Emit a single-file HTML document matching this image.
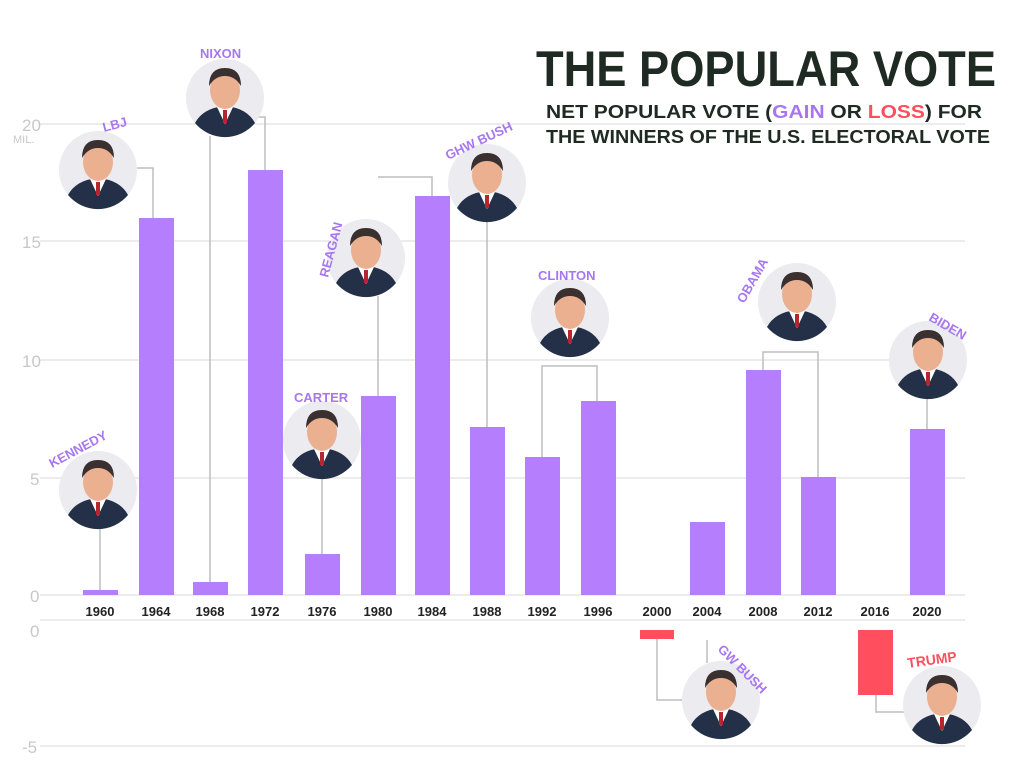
<!DOCTYPE html>
<html><head><meta charset="utf-8"><style>
body{margin:0;background:#fff;}
svg{display:block;font-family:"Liberation Sans",sans-serif;}
</style></head><body>
<svg width="1024" height="768" viewBox="0 0 1024 768" xmlns="http://www.w3.org/2000/svg">
<rect width="1024" height="768" fill="#fff"/>
<defs>
<g id="face">
  <circle r="39" fill="#ebebf0"/>
  <path d="M-30,25 Q-22,10 0,8 Q22,10 30,25 A39,39 0 0 1 -30,25Z" fill="#243047"/>
  <path d="M-8,9 L0,26 L8,9Z" fill="#fff"/>
  <rect x="-2" y="12" width="4" height="13" fill="#b5262e"/>
  <ellipse cx="0" cy="-8" rx="15" ry="19" fill="#eab08f"/>
  <path d="M-16,-12 Q-16,-30 0,-30 Q16,-30 16,-12 Q10,-22 0,-22 Q-10,-22 -16,-12Z" fill="#3a3030"/>
</g>
</defs>
<!-- gridlines -->
<g stroke="#e6e6e6" stroke-width="1.5">
<line x1="40" y1="124" x2="965" y2="124"/>
<line x1="40" y1="241" x2="965" y2="241"/>
<line x1="40" y1="360" x2="965" y2="360"/>
<line x1="40" y1="478" x2="965" y2="478"/>
<line x1="40" y1="595" x2="965" y2="595"/>
<line x1="40" y1="620" x2="965" y2="620"/>
<line x1="40" y1="746" x2="965" y2="746"/>
</g>
<g fill="#c8c8c8" font-size="17">
<text x="22" y="131">20</text><text x="13" y="143" font-size="11">MIL.</text>
<text x="22" y="248">15</text>
<text x="22" y="367">10</text>
<text x="30" y="485">5</text>
<text x="30" y="602">0</text>
<text x="30" y="637">0</text>
<text x="22" y="753">-5</text>
</g>
<!-- connectors -->
<g stroke="#bdbdbd" stroke-width="1.5" fill="none">
<path d="M100,528V590"/>
<path d="M137,168H153V218"/>
<path d="M210,136V582"/>
<path d="M240,117H265V170"/>
<path d="M322,478V554"/>
<path d="M378,296V396"/>
<path d="M378,177H432V196"/>
<path d="M487,221V427"/>
<path d="M542,457V366H597V401"/>
<path d="M763,370V352H818V477"/>
<path d="M927,398V429"/>
<path d="M657,639V700H683"/>
<path d="M707,640V663"/>
<path d="M876,695V712H904"/>
</g>
<!-- bars -->
<g fill="#b57efc">
<rect x="83" y="590" width="35" height="5"/>
<rect x="139" y="218" width="35" height="377"/>
<rect x="193" y="582" width="35" height="13"/>
<rect x="248" y="170" width="35" height="425"/>
<rect x="305" y="554" width="35" height="41"/>
<rect x="361" y="396" width="35" height="199"/>
<rect x="415" y="196" width="35" height="399"/>
<rect x="470" y="427" width="35" height="168"/>
<rect x="525" y="457" width="35" height="138"/>
<rect x="581" y="401" width="35" height="194"/>
<rect x="690" y="522" width="35" height="73"/>
<rect x="746" y="370" width="35" height="225"/>
<rect x="801" y="477" width="35" height="118"/>
<rect x="910" y="429" width="35" height="166"/>
</g>
<g fill="#ff4f5f">
<rect x="640" y="630" width="34" height="9"/>
<rect x="858" y="630" width="35" height="65"/>
</g>
<!-- years -->
<g fill="#222" font-size="13" font-weight="bold" text-anchor="middle">
<text x="100" y="616">1960</text><text x="156" y="616">1964</text><text x="210" y="616">1968</text>
<text x="265" y="616">1972</text><text x="322" y="616">1976</text><text x="378" y="616">1980</text>
<text x="432" y="616">1984</text><text x="487" y="616">1988</text><text x="542" y="616">1992</text>
<text x="598" y="616">1996</text><text x="657" y="616">2000</text><text x="707" y="616">2004</text>
<text x="763" y="616">2008</text><text x="818" y="616">2012</text><text x="875" y="616">2016</text>
<text x="927" y="616">2020</text>
</g>
<!-- portraits -->
<use href="#face" x="98" y="490"/>
<use href="#face" x="98" y="170"/>
<use href="#face" x="225" y="98"/>
<use href="#face" x="322" y="440"/>
<use href="#face" x="366" y="258"/>
<use href="#face" x="487" y="183"/>
<use href="#face" x="570" y="318"/>
<use href="#face" x="797" y="302"/>
<use href="#face" x="928" y="360"/>
<use href="#face" x="721" y="700"/>
<use href="#face" x="942" y="705"/>
<!-- names -->
<g fill="#a877f0" font-size="13" font-weight="bold">
<text x="52" y="468" transform="rotate(-28 52 468)">KENNEDY</text>
<text x="104" y="132" transform="rotate(-15 104 132)">LBJ</text>
<text x="200" y="58">NIXON</text>
<text x="294" y="402">CARTER</text>
<text x="328" y="278" transform="rotate(-75 328 278)">REAGAN</text>
<text x="448" y="160" transform="rotate(-25 448 160)">GHW BUSH</text>
<text x="538" y="280">CLINTON</text>
<text x="744" y="304" transform="rotate(-60 744 304)">OBAMA</text>
<text x="928" y="320" transform="rotate(30 928 320)">BIDEN</text>
<text x="717" y="650" transform="rotate(45 717 650)">GW BUSH</text>
</g>
<text x="908" y="668" fill="#ff4f5f" font-size="14" font-weight="bold" transform="rotate(-8 908 668)">TRUMP</text>
<!-- title -->
<text x="536" y="86" fill="#1e2a22" font-size="50" font-weight="bold" textLength="460" lengthAdjust="spacingAndGlyphs">THE POPULAR VOTE</text>
<text x="546" y="118" fill="#1e2a22" font-size="18" font-weight="bold" textLength="436" lengthAdjust="spacingAndGlyphs">NET POPULAR VOTE (<tspan fill="#a877f0">GAIN</tspan> OR <tspan fill="#ff4f5f">LOSS</tspan>) FOR</text>
<text x="546" y="143" fill="#1e2a22" font-size="18" font-weight="bold" textLength="444" lengthAdjust="spacingAndGlyphs">THE WINNERS OF THE U.S. ELECTORAL VOTE</text>
</svg>
</body></html>
